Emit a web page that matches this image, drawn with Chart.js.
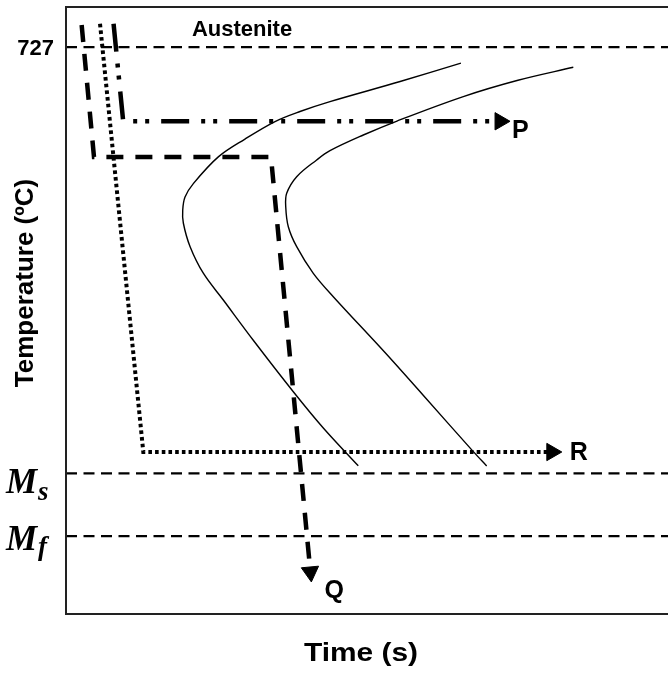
<!DOCTYPE html>
<html>
<head>
<meta charset="utf-8">
<script src="https://cdn.jsdelivr.net/npm/chart.js@4"></script>
<style>
  html, body { margin: 0; padding: 0; overflow: hidden; background: #fff; }
  canvas { display: block; }
</style>
</head>
<body>
<canvas id="ttt" width="668" height="675"></canvas>
<script>
// axis ranges (time arbitrary 0-100, temperature in degC)
var timeMin = 0, timeMax = 100;
var tempMin = 50, tempMax = 775;

// horizontal reference temperatures: eutectoid, Ms, Mf
var refTemps = [727, 218, 143];
var refNames = ['727', 'M', 'M'];
var refSubs = ['', 's', 'f'];

// C-curve: start of transformation
var startTime = [65.6, 55.5, 43.85, 38.87, 34.72, 29.73, 25.3, 21.15, 19.77, 19.39, 19.49, 20.6, 22.81, 26.13, 31.11, 37.76, 42.74, 48.55];
var startTemp = [708, 686, 662, 650.2, 638.2, 617.3, 596, 564, 548, 532.5, 517, 489, 457, 425, 377, 315.5, 272.2, 227];

// C-curve: end of transformation
var finishTime = [84.27, 75.08, 66.0, 54.98, 49.39, 43.85, 41.64, 38.32, 36.66, 36.5, 36.93, 38.32, 41.08, 44.4, 52.99, 59.3, 67.66, 69.88];
var finishTemp = [703, 687.5, 668, 638.8, 622.1, 603.4, 592.3, 572.3, 552.5, 536.5, 512.6, 488.7, 456.9, 429, 362.3, 311.6, 243.9, 226.8];

// cooling paths
var pathPTime = [7.9, 9.5, 72.1];
var pathPTemp = [755, 638.5, 638.5];
var pathQTime = [2.6, 4.65, 34.05, 40.6];
var pathQTemp = [753.5, 595.8, 595.8, 100.2];
var pathRTime = [5.65, 12.84, 80.7];
var pathRTemp = [755, 243.5, 243.5];

function toPoints(xs, ys) {
    return xs.map((v, i) => ({x: v, y: ys[i]}));
}

function arrowRadius(n) {
    let r = [];
    for (let i = 0; i < n; i++) r.push(i == n - 1 ? 10 : 0);
    return r;
}

let datasets = [];

refTemps.forEach(t => {
    datasets.push({
        data: toPoints([timeMin, timeMax], [t, t]),
        borderColor: '#000',
        borderWidth: 2.2,
        borderDash: [11, 6.5],
        pointRadius: 0
    });
});

datasets.push({
    data: toPoints(startTime, startTemp),
    borderColor: '#000',
    borderWidth: 1.4,
    tension: 0.35,
    pointRadius: 0
});
datasets.push({
    data: toPoints(finishTime, finishTemp),
    borderColor: '#000',
    borderWidth: 1.4,
    tension: 0.35,
    pointRadius: 0
});

function pathDataset(xs, ys, dash, width, rot) {
    return {
        data: toPoints(xs, ys),
        borderColor: '#000',
        borderWidth: width,
        borderDash: dash,
        borderCapStyle: 'butt',
        borderJoinStyle: 'miter',
        pointRadius: arrowRadius(xs.length),
        pointStyle: 'triangle',
        pointRotation: rot,
        pointBackgroundColor: '#000',
        pointBorderColor: '#000',
        pointBorderWidth: 1
    };
}

datasets.push(pathDataset(pathPTime, pathPTemp, [28, 12, 4, 8, 4, 12], 4.5, 90));
datasets.push(pathDataset(pathQTime, pathQTemp, [17, 12], 4.5, 174.6));
datasets.push(pathDataset(pathRTime, pathRTemp, [3.6, 3.1], 4, 90));

function drawText(ctx, text, x, y, font, align, sx) {
    ctx.save();
    ctx.font = font;
    ctx.textAlign = align;
    ctx.translate(x, y);
    ctx.scale(sx || 1, 1);
    ctx.fillText(text, 0, 0);
    ctx.restore();
}

var decorPlugin = {
    id: 'decor',
    afterDraw(chart) {
        const ctx = chart.ctx;
        const a = chart.chartArea;
        const xs = chart.scales.x;
        const ys = chart.scales.y;
        ctx.save();

        // frame
        ctx.strokeStyle = '#222';
        ctx.lineWidth = 2;
        ctx.beginPath();
        ctx.moveTo(a.right, a.top);
        ctx.lineTo(a.left, a.top);
        ctx.lineTo(a.left, a.bottom);
        ctx.lineTo(a.right, a.bottom);
        ctx.stroke();

        ctx.fillStyle = '#000';
        ctx.textBaseline = 'alphabetic';

        // y tick labels
        let y727 = ys.getPixelForValue(refTemps[0]);
        drawText(ctx, refNames[0], 54, y727 + 8, 'bold 22px "Liberation Sans", Arial, sans-serif', 'right');

        let yMs = ys.getPixelForValue(refTemps[1]);
        drawText(ctx, refNames[1], 6, yMs + 20, 'italic bold 35px "Liberation Serif", serif', 'left');
        drawText(ctx, refSubs[1], 38, yMs + 27, 'italic bold 27px "Liberation Serif", serif', 'left');

        let yMf = ys.getPixelForValue(refTemps[2]);
        drawText(ctx, refNames[2], 6, yMf + 14, 'italic bold 35px "Liberation Serif", serif', 'left');
        drawText(ctx, refSubs[2], 38, yMf + 19, 'italic bold 27px "Liberation Serif", serif', 'left');

        // region label
        drawText(ctx, 'Austenite', 242, 36, 'bold 22px "Liberation Sans", Arial, sans-serif', 'center');

        // path labels
        const lblFont = 'bold 25px "Liberation Sans", Arial, sans-serif';
        drawText(ctx, 'P', xs.getPixelForValue(pathPTime[2]) + 12, ys.getPixelForValue(pathPTemp[2]) + 17, lblFont, 'left');
        drawText(ctx, 'Q', xs.getPixelForValue(pathQTime[3]) + 14, ys.getPixelForValue(pathQTemp[3]) + 26, lblFont, 'left');
        drawText(ctx, 'R', xs.getPixelForValue(pathRTime[2]) + 18, ys.getPixelForValue(pathRTemp[2]) + 8, lblFont, 'left');

        // axis titles
        drawText(ctx, 'Time (s)', 361, 661, 'bold 26px "Liberation Sans", Arial, sans-serif', 'center', 1.15);
        ctx.translate(33, 283);
        ctx.rotate(-Math.PI / 2);
        drawText(ctx, 'Temperature (ºC)', 0, 0, 'bold 26px "Liberation Sans", Arial, sans-serif', 'center');

        ctx.restore();
    }
};

new Chart(document.getElementById('ttt').getContext('2d'), {
    type: 'scatter',
    data: {datasets: datasets},
    options: {
        responsive: false,
        animation: false,
        showLine: true,
        layout: {autoPadding: false, padding: {left: 66, top: 7, right: 0, bottom: 61}},
        plugins: {
            legend: {display: false},
            tooltip: {enabled: false}
        },
        scales: {
            x: {type: 'linear', min: timeMin, max: timeMax, display: false},
            y: {type: 'linear', min: tempMin, max: tempMax, display: false}
        },
        elements: {
            line: {fill: false}
        }
    },
    plugins: [decorPlugin]
});
</script>
</body>
</html>
